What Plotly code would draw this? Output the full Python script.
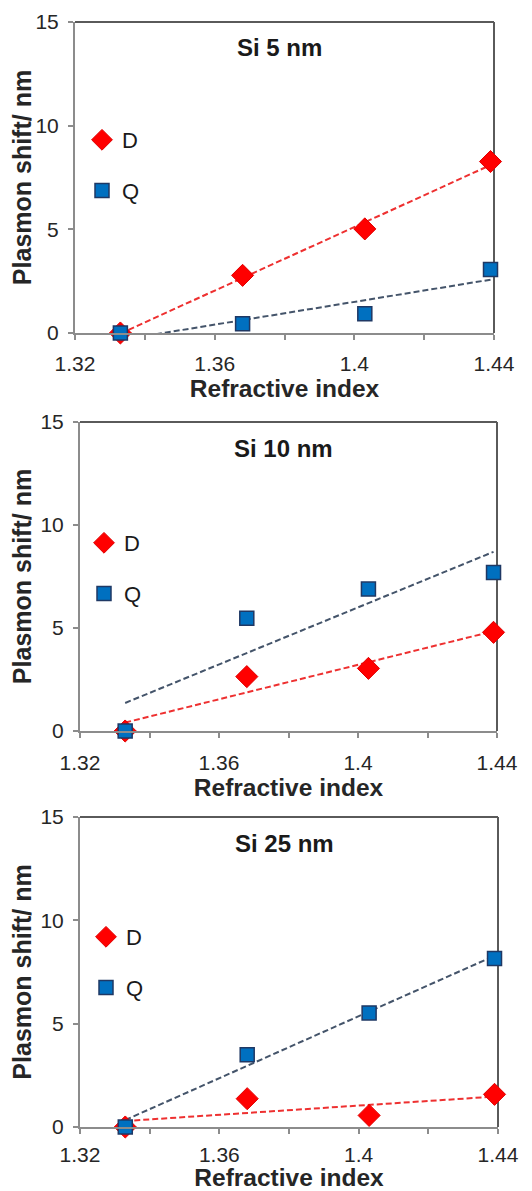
import numpy as np
import plotly.graph_objects as go

# ---- data ----
refractive_index = [1.333, 1.368, 1.403, 1.439]
panel_titles = ["Si 5 nm", "Si 10 nm", "Si 25 nm"]
D_si5 = [0.0, 2.78, 5.02, 8.27]
Q_si5 = [0.0, 0.45, 0.93, 3.06]
D_si10 = [0.0, 2.64, 3.04, 4.79]
Q_si10 = [0.0, 5.47, 6.89, 7.69]
D_si25 = [0.0, 1.37, 0.56, 1.58]
Q_si25 = [0.0, 3.50, 5.52, 8.15]
x_tickvals = [1.32, 1.34, 1.36, 1.38, 1.40, 1.42, 1.44]
x_ticktext = ["1.32", "", "1.36", "", "1.4", "", "1.44"]
y_tickvals = [0, 5, 10, 15]

D_series = [D_si5, D_si10, D_si25]
Q_series = [Q_si5, Q_si10, Q_si25]

# page is offset by the default 8px body margin
OFF = 8
W, H = 532 - OFF, 1191 - OFF
# plot-area pixel boxes in page coordinates (left, right, top, bottom)
boxes = [(75, 494, 22, 333), (80, 497, 422, 731), (80, 498, 817, 1127)]
legend_pos = [(82, 119), (84, 522), (86, 916)]
tick_standoff = [6, 7, 3]
title_standoff = [4, 4, 3]


def px(p):
    return (p - OFF) / W


def py(p):
    return 1 - (p - OFF) / H


FONT = "Liberation Sans, Arial, sans-serif"
RED = "#FF0000"
RED_TREND = "#EE3030"
BLUE = "#0070C0"
NAVY = "#1F3864"
TREND_Q = "#44546A"
AXIS = "#8C8C8C"
BORDER = "#5A5A5A"
TXT = "#262626"

fig = go.Figure()
layout = dict(width=W, height=H, margin=dict(l=0, r=0, t=0, b=0, autoexpand=False),
              plot_bgcolor="white", paper_bgcolor="white",
              font=dict(family=FONT, size=20, color=TXT),
              annotations=[], shapes=[])

for i in range(3):
    l, r, t, b = boxes[i]
    xa = "xaxis" if i == 0 else f"xaxis{i+1}"
    ya = "yaxis" if i == 0 else f"yaxis{i+1}"
    xr = "x" if i == 0 else f"x{i+1}"
    yr = "y" if i == 0 else f"y{i+1}"
    lg = "legend" if i == 0 else f"legend{i+1}"
    x = np.array(refractive_index)
    for vals, color in [(D_series[i], RED_TREND), (Q_series[i], TREND_Q)]:
        k, c = np.polyfit(x, np.array(vals), 1)
        xs = [x.min(), x.max()]
        fig.add_trace(go.Scatter(x=xs, y=[k * v + c for v in xs], mode="lines",
                                 line=dict(color=color, width=2, dash="6px,3px"),
                                 showlegend=False, xaxis=xr, yaxis=yr, hoverinfo="skip"))
    fig.add_trace(go.Scatter(x=refractive_index, y=D_series[i], mode="markers", name="D",
                             marker=dict(symbol="diamond", size=17, color=RED,
                                         line=dict(color="#E00000", width=1)),
                             cliponaxis=False, xaxis=xr, yaxis=yr,
                             legend=lg, legendgroup=f"D{i}"))
    fig.add_trace(go.Scatter(x=refractive_index, y=Q_series[i], mode="markers", name="Q",
                             marker=dict(symbol="square", size=14, color=BLUE,
                                         line=dict(color=NAVY, width=1.5)),
                             cliponaxis=False, xaxis=xr, yaxis=yr,
                             legend=lg, legendgroup=f"Q{i}"))
    layout[xa] = dict(domain=[px(l), px(r)], anchor=yr, range=[1.32, 1.44],
                      tickmode="array", tickvals=x_tickvals, ticktext=x_ticktext,
                      ticks="outside", ticklen=5, tickcolor=AXIS, tickwidth=1.5,
                      ticklabelstandoff=tick_standoff[i],
                      showline=True, linecolor=AXIS, linewidth=2, mirror=False,
                      showgrid=False, zeroline=False, automargin=False,
                      tickfont=dict(size=21, color=TXT),
                      title=dict(text="<b>Refractive index</b>", font=dict(size=24.5, color=TXT),
                                 standoff=title_standoff[i]))
    layout[ya] = dict(domain=[py(b), py(t)], anchor=xr, range=[0, 15],
                      tickmode="array", tickvals=y_tickvals,
                      ticks="outside", ticklen=5, tickcolor=AXIS, tickwidth=1.5,
                      ticklabelstandoff=5,
                      showline=True, linecolor=AXIS, linewidth=2, mirror=False,
                      showgrid=False, zeroline=False, automargin=False,
                      tickfont=dict(size=21, color=TXT),
                      title=dict(text="<b>Plasmon shift/ nm</b>", font=dict(size=25, color=TXT),
                                 standoff=2))
    # top and right plot-area border
    layout["shapes"].append(dict(type="line", xref=f"{xr} domain", yref=f"{yr} domain",
                                 x0=0, x1=1, y0=1, y1=1, layer="below",
                                 line=dict(color=BORDER, width=2)))
    layout["shapes"].append(dict(type="line", xref=f"{xr} domain", yref=f"{yr} domain",
                                 x0=1, x1=1, y0=0, y1=1, layer="below",
                                 line=dict(color=BORDER, width=2)))
    lx, ly = legend_pos[i]
    layout[lg] = dict(x=px(lx), y=py(ly), xanchor="left", yanchor="top",
                      bgcolor="rgba(0,0,0,0)", font=dict(size=22, color="#1a1a1a"),
                      tracegroupgap=19, itemwidth=30)
    layout["annotations"].append(dict(
        text=f"<b>{panel_titles[i]}</b>", xref="paper", yref="paper",
        x=px((l + r) / 2 - 5), y=py(t + 26), xanchor="center", yanchor="middle",
        showarrow=False, font=dict(size=24, color="#1a1a1a")))

fig.update_layout(**layout)
fig.write_html("out.html")
